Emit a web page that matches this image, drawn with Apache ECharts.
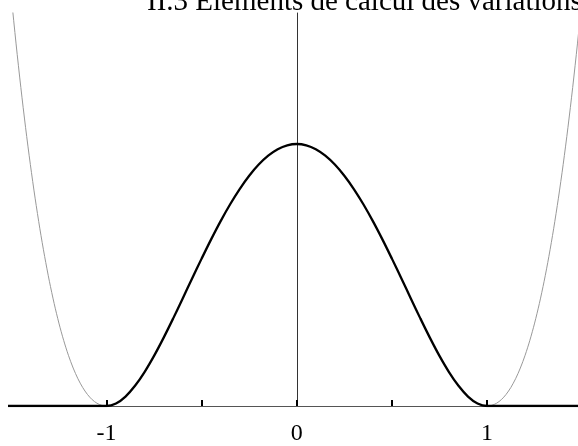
<!DOCTYPE html>
<html>
<head>
<meta charset="utf-8">
<script src="https://cdn.jsdelivr.net/npm/echarts@6/dist/echarts.min.js"></script>
<style>
  html, body { margin: 0; padding: 0; background: #fff; }
  #chart { width: 578px; height: 446px; }
</style>
</head>
<body>
<div id="chart"></div>
<script>
// Running header of the page
const headerText = 'II.3 Éléments de calcul des variations';

// Axis ticks and labelled ticks
const tickValues = [-1, -0.5, 0, 0.5, 1];
const labelValues = [-1, 0, 1];

// Bump profile: flat outside [-1, 1], bell inside
const bumpX = [-1.55, -1.05, -1.00, -0.95, -0.90, -0.85, -0.80, -0.75, -0.70, -0.65, -0.60, -0.55,
  -0.50, -0.45, -0.40, -0.35, -0.30, -0.25, -0.20, -0.15, -0.10, -0.05, 0.00,
  0.05, 0.10, 0.15, 0.20, 0.25, 0.30, 0.35, 0.40, 0.45, 0.50,
  0.55, 0.60, 0.65, 0.70, 0.75, 0.80, 0.85, 0.90, 0.95, 1.00, 1.05, 1.55];
const bumpY = [0, 0, 0, 0.0095, 0.0361, 0.0770, 0.1296, 0.1914, 0.2601, 0.3335, 0.4096, 0.4865,
  0.5625, 0.6360, 0.7056, 0.7700, 0.8281, 0.8789, 0.9216, 0.9555, 0.9801, 0.9950, 1.0000,
  0.9950, 0.9801, 0.9555, 0.9216, 0.8789, 0.8281, 0.7700, 0.7056, 0.6360, 0.5625,
  0.4865, 0.4096, 0.3335, 0.2601, 0.1914, 0.1296, 0.0770, 0.0361, 0.0095, 0, 0, 0];

// Outer branches of the polynomial (light grey)
const leftWellX = [-1.525, -1.500, -1.475, -1.450, -1.425, -1.400, -1.375, -1.350, -1.325, -1.300, -1.275,
  -1.250, -1.225, -1.200, -1.175, -1.150, -1.125, -1.100, -1.075, -1.050, -1.025, -1.000];
const leftWellY = [1.7573, 1.5625, 1.3821, 1.2155, 1.0622, 0.9216, 0.7932, 0.6765, 0.5710, 0.4761, 0.3914,
  0.3164, 0.2506, 0.1936, 0.1449, 0.1040, 0.0706, 0.0441, 0.0242, 0.0105, 0.0026, 0];
const rightWellX = [1.000, 1.025, 1.050, 1.075, 1.100, 1.125, 1.150, 1.175, 1.200, 1.225, 1.250,
  1.275, 1.300, 1.325, 1.350, 1.375, 1.400, 1.425, 1.450, 1.475, 1.500, 1.525];
const rightWellY = [0, 0.0026, 0.0105, 0.0242, 0.0441, 0.0706, 0.1040, 0.1449, 0.1936, 0.2506, 0.3164,
  0.3914, 0.4761, 0.5710, 0.6765, 0.7932, 0.9216, 1.0622, 1.2155, 1.3821, 1.5625, 1.7573];

const pairs = (xs, ys) => xs.map((x, i) => [x, ys[i]]);
const serif = '"Liberation Serif", "DejaVu Serif", serif';

const chart = echarts.init(document.getElementById('chart'), null, { renderer: 'canvas' });
chart.setOption({
  animation: false,
  backgroundColor: '#fff',
  grid: { left: 10, right: 0, top: 13, bottom: 33, containLabel: false },
  xAxis: {
    type: 'value',
    min: -1.507,
    max: 1.478,
    axisLine: { show: true, onZero: true, lineStyle: { color: '#555', width: 1 } },
    axisTick: {
      show: true, inside: true, length: 6, customValues: tickValues,
      lineStyle: { color: '#000', width: 2 }
    },
    axisLabel: {
      show: true, customValues: labelValues, margin: 16,
      fontFamily: serif, fontSize: 24, color: '#000',
      formatter: v => String(v)
    },
    splitLine: { show: false }
  },
  yAxis: {
    type: 'value',
    min: 0,
    max: 1.5,
    axisLine: { show: true, onZero: true, lineStyle: { color: '#333', width: 1 } },
    axisTick: { show: false },
    axisLabel: { show: false },
    splitLine: { show: false }
  },
  graphic: [{
    type: 'text',
    left: 147,
    top: -12,
    silent: true,
    style: { text: headerText, font: '29px ' + serif, fill: '#000' }
  }],
  series: [
    {
      type: 'line', data: pairs(leftWellX, leftWellY), showSymbol: false, clip: true, smooth: 0.3,
      lineStyle: { color: '#999', width: 1 }, z: 2
    },
    {
      type: 'line', data: pairs(rightWellX, rightWellY), showSymbol: false, clip: true, smooth: 0.3,
      lineStyle: { color: '#999', width: 1 }, z: 2
    },
    {
      type: 'line', data: pairs(bumpX, bumpY), showSymbol: false, clip: true, smooth: 0.3,
      lineStyle: { color: '#000', width: 2.3 }, z: 3
    }
  ]
});
</script>
</body>
</html>
